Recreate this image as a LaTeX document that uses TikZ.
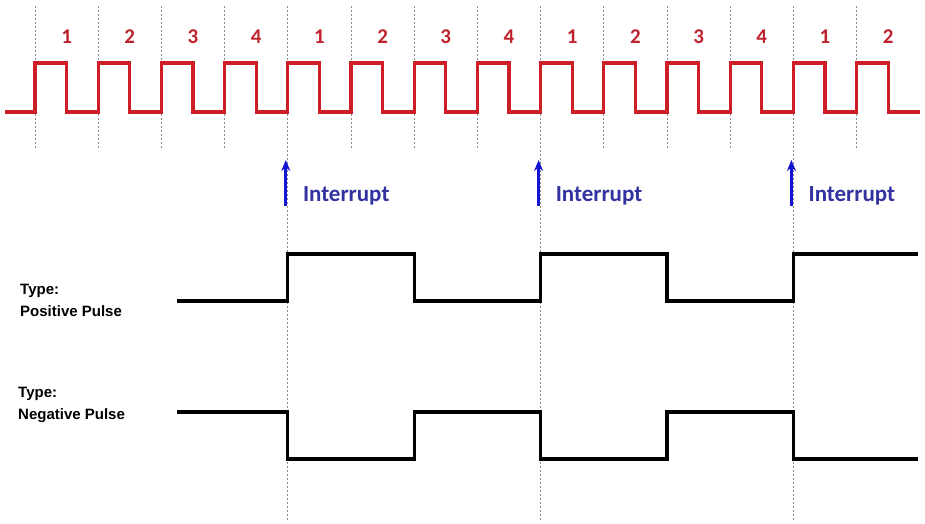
\documentclass[tikz,border=0pt]{standalone}
\usepackage{fontspec}
\setmainfont{Carlito}
\newfontfamily\typefont{Liberation Sans}
\usepackage{tikz}
\usepackage{xcolor}
\definecolor{wave-red}{RGB}{205,30,40}
\definecolor{count-red}{RGB}{190,35,45}
\definecolor{irq-blue}{RGB}{20,20,210}
\definecolor{irq-text}{RGB}{50,50,160}
\tikzset{
    red-wave/.style = {draw=wave-red, line width=3.2pt, line join=miter},
    black-wave/.style = {draw=black, line width=3.2pt, line join=miter},
    dash-guide/.style = {draw=gray!90, line width=1pt, dash pattern=on 2pt off 2pt},
    count-label/.style = {text=count-red, font=\fontsize{21}{25}\selectfont\bfseries, inner sep=0pt},
    irq-arrow/.style = {draw=irq-blue, line width=2.8pt, -{Stealth[length=11pt,width=9pt]}},
    irq-label/.style = {text=irq-text, font=\fontsize{23}{27}\selectfont\bfseries, inner sep=0pt, anchor=base west},
    type-label/.style = {font=\typefont\fontsize{15}{22}\selectfont\bfseries, align=left, inner sep=0pt, anchor=north west},
}
\usetikzlibrary{arrows.meta}

\begin{document}
\begin{tikzpicture}[x=1pt,y=-1pt]
\useasboundingbox (0,0) rectangle (925,523);

\foreach \k in {0,...,13}{
    \pgfmathtruncatemacro{\n}{mod(\k,4)+1}
    \node[count-label] (count-\k) at ({35+63.2*\k+31.6},37) {\n};
}
\foreach \k in {0,1,2,3,5,6,7,9,10,11,13}
    \draw[dash-guide] ({35+63.2*\k},6) -- ({35+63.2*\k},150);
\foreach \k in {4,8,12}
    \draw[dash-guide] ({35+63.2*\k},6) -- ({35+63.2*\k},520);

\draw[red-wave] (5,112) foreach \k in {0,...,13}{
    -- ({35+63.2*\k},112) -- ({35+63.2*\k},63) -- ({35+63.2*\k+31.6},63) -- ({35+63.2*\k+31.6},112)
} -- (920,112);

\foreach \k/\x in {1/287.8,2/540.6,3/793.4}{
    \coordinate (irq-tail-\k) at (\x-2,206);
    \coordinate (irq-head-\k) at (\x-2,160);
    \draw[irq-arrow] (irq-tail-\k) -- (irq-head-\k);
    \node[irq-label] (irq-\k) at (\x+15,201) {Interrupt};
}

\node[type-label] (pos-type) at (20,284) {Type:\\Positive Pulse};
\draw[black-wave] (177,301) -- (287.8,301) -- (287.8,254) -- (414.2,254) -- (414.2,301) -- (540.6,301)
    -- (540.6,254) -- (667,254) -- (667,301) -- (793.4,301) -- (793.4,254) -- (918,254);

\node[type-label] (neg-type) at (18,387) {Type:\\Negative Pulse};
\draw[black-wave] (177,412) -- (287.8,412) -- (287.8,459) -- (414.2,459) -- (414.2,412) -- (540.6,412)
    -- (540.6,459) -- (667,459) -- (667,412) -- (793.4,412) -- (793.4,459) -- (918,459);
\end{tikzpicture}
\end{document}
